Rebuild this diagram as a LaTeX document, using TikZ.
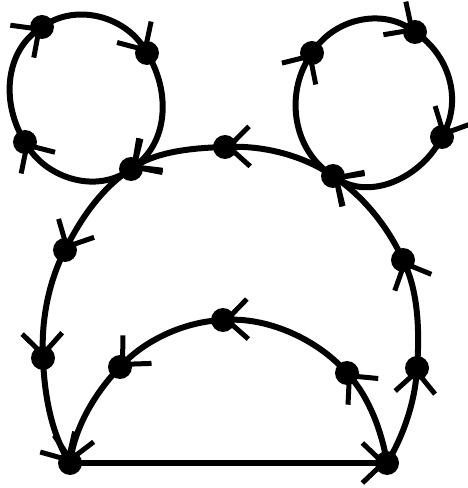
\documentclass[tikz,border=0pt]{standalone}
\usetikzlibrary{arrows.meta}
\begin{document}
\begin{tikzpicture}[x=1pt,y=1pt,
  dot/.style={circle,fill=black,inner sep=0pt,minimum size=24pt},
  edge/.style={line width=6pt,-{Straight Barb[length=21pt,width=40pt,line width=5pt]}},
  bigarc/.style={edge,looseness=0.86}]
\useasboundingbox (0,0) rectangle (468,488);
% bottom vertices
\node[dot] (A) at (70,25) {};
\node[dot] (B) at (387,25) {};
% outer arc
\node[dot] (O1) at (417,120) {};
\node[dot] (O2) at (403,228) {};
\node[dot] (RJ) at (333,312) {};
\node[dot] (OT) at (225,341) {};
\node[dot] (LJ) at (131,319) {};
\node[dot] (O3) at (65,238) {};
\node[dot] (O4) at (43,130) {};
% inner arc
\node[dot] (IR) at (347,115) {};
\node[dot] (IT) at (223,168) {};
\node[dot] (IL) at (120,121) {};
% left ear
\node[dot] (L1) at (42,461) {};
\node[dot] (L2) at (147,435) {};
\node[dot] (L4) at (25,346) {};
% right ear
\node[dot] (R1) at (415,456) {};
\node[dot] (R2) at (442,351) {};
\node[dot] (R3) at (312,435) {};
% straight base
\draw[edge] (A.center) -- (B.center);
% outer arc
\draw[bigarc] (B.center) to[out=58.8,in=265.6] (O1.center);
\draw[bigarc] (O1.center) to[out=85.6,in=294.1] (O2.center);
\draw[bigarc] (O2.center) to[out=114.1,in=325.2] (RJ.center);
\draw[bigarc] (RJ.center) to[out=145.2,in=1.6] (OT.center);
\draw[bigarc] (OT.center) to[out=181.6,in=32.7] (LJ.center);
\draw[bigarc] (LJ.center) to[out=212.7,in=62.6] (O3.center);
\draw[bigarc] (O3.center) to[out=242.6,in=91.9] (O4.center);
\draw[bigarc] (O4.center) to[out=271.9,in=120.7] (A.center);
% inner arc
\draw[bigarc] (B.center) to[out=99.2,in=310.9] (IR.center);
\draw[bigarc] (IR.center) to[out=130.9,in=2.2] (IT.center);
\draw[bigarc] (IT.center) to[out=182.2,in=45.6] (IL.center);
\draw[bigarc] (IL.center) to[out=225.6,in=80.8] (A.center);
% left ear
\draw[edge] (L1.center) to[out=35.9,in=121.6] (L2.center);
\draw[edge] (L2.center) to[out=-58.4,in=36.8] (LJ.center);
\draw[edge] (LJ.center) to[out=216.8,in=302.1] (L4.center);
\draw[edge] (L4.center) to[out=122.1,in=215.9] (L1.center);
% right ear
\draw[edge] (R1.center) to[out=-34.1,in=63.5] (R2.center);
\draw[edge] (R2.center) to[out=243.5,in=327.6] (RJ.center);
\draw[edge] (RJ.center) to[out=147.6,in=237.7] (R3.center);
\draw[edge] (R3.center) to[out=57.7,in=145.9] (R1.center);
\end{tikzpicture}
\end{document}
